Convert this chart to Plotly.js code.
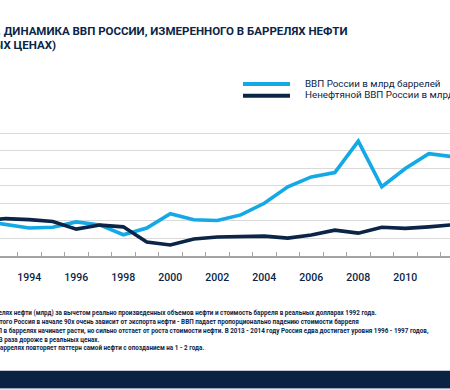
<!DOCTYPE html>
<html>
<head>
<meta charset="utf-8">
<script src="https://cdn.plot.ly/plotly-3.0.1.min.js"></script>
<style>
html, body { margin: 0; padding: 0; overflow: hidden; background: #ffffff; }
#chart { width: 450px; height: 390px; }
</style>
</head>
<body>
<div id="chart"></div>
<script>
// ---- data ----
const years = [1992, 1993, 1994, 1995, 1996, 1997, 1998, 1999, 2000, 2001, 2002,
               2003, 2004, 2005, 2006, 2007, 2008, 2009, 2010, 2011, 2012];
const gdpBarrels = [4.0, 3.54, 3.18, 3.28, 3.88, 3.54, 2.42, 3.18, 4.82, 4.12, 4.04,
                    4.68, 6.0, 7.88, 9.0, 9.5, 13.08, 7.88, 9.96, 11.64, 11.3];
const nonOilGdpBarrels = [4.0, 4.26, 4.14, 3.92, 3.06, 3.52, 3.32, 1.6, 1.26, 1.94, 2.16,
                          2.22, 2.26, 2.04, 2.38, 2.94, 2.6, 3.28, 3.14, 3.32, 3.56];
const seriesNames = ["ВВП России в млрд баррелей", "Ненефтяной ВВП России в млрд баррелей"];
const seriesColors = ["#13A8E6", "#0B2546"];
const tickYears = [1994, 1996, 1998, 2000, 2002, 2004, 2006, 2008, 2010, 2012];
const tickLabels = ["1994", "1996", "1998", "2000", "2002", "2004", "2006", "2008", "2010", "2012"];
const titleLines = ["2. ДИНАМИКА ВВП РОССИИ, ИЗМЕРЕННОГО В БАРРЕЛЯХ НЕФТИ", "(В РЕАЛЬНЫХ ЦЕНАХ)"];
const notes = [
  "* ВВП России в баррелях нефти (млрд) за вычетом реально произведенных объемов нефти и стоимость барреля в реальных долларах 1992 года.",
  "1. Из-за этого Россия в начале 90х очень зависит от экспорта нефти - ВВП падает пропорционально падению стоимости барреля",
  "2. С 2000 года ВВП в баррелях начинает расти, но сильно отстает от роста стоимости нефти. В 2013 - 2014 году Россия едва достигает уровня 1996 - 1997 годов,",
  "хотя нефть стала в 3 раза дороже в реальных ценах.",
  "3. Ненефтяной ВВП в баррелях повторяет паттерн самой нефти с опозданием на 1 - 2 года."
];

// ---- layout helpers (pixel -> paper) ----
const W = 450, H = 390;
const M = { l: 0, r: 0, t: 115, b: 133.6 };
const plotH = H - M.t - M.b;
const px = x => (x - M.l) / (W - M.l - M.r);
const py = y => (H - M.b - y) / plotH;
const navy = "#0B2546";
const FONT = "Roboto, 'Liberation Sans', sans-serif";

const traces = [
  { x: years, y: gdpBarrels, name: seriesNames[0], type: "scatter", mode: "lines",
    line: { color: seriesColors[0], width: 3.6 }, showlegend: false, hoverinfo: "x+y" },
  { x: years, y: nonOilGdpBarrels, name: seriesNames[1], type: "scatter", mode: "lines",
    line: { color: seriesColors[1], width: 3.6 }, showlegend: false, hoverinfo: "x+y" }
];

const annotations = [];
annotations.push({ xref: "paper", yref: "paper", x: px(350), y: py(31), xanchor: "right", yanchor: "middle",
  text: titleLines[0], showarrow: false, font: { family: FONT, size: 11.5, color: navy, weight: "bold" } });
annotations.push({ xref: "paper", yref: "paper", x: px(57.5), y: py(45), xanchor: "right", yanchor: "middle",
  text: titleLines[1], showarrow: false, font: { family: FONT, size: 11.5, color: navy, weight: "bold" } });

// legend (drawn manually)
const legendY = [84, 95.7];
const shapes = [];
seriesNames.forEach((n, i) => {
  shapes.push({ type: "line", xref: "paper", yref: "paper", x0: px(243), x1: px(290), y0: py(legendY[i]), y1: py(legendY[i]),
    line: { color: seriesColors[i], width: 4 } });
  annotations.push({ xref: "paper", yref: "paper", x: px(302.5), y: py(legendY[i] - 1), xanchor: "left", yanchor: "middle",
    text: n, showarrow: false, font: { family: FONT, size: 9.8, color: navy } });
});

// footnotes
const noteEnds = [379, 360.5, 430.5, 101.5, 205.5];
const noteY = [313.7, 322.7, 331.7, 340.2, 349];
notes.forEach((t, i) => {
  annotations.push({ xref: "paper", yref: "paper", x: px(noteEnds[i]), y: py(noteY[i]), xanchor: "right", yanchor: "middle",
    text: t, showarrow: false, font: { family: FONT, size: 6.3, color: navy, weight: "bold" } });
});

// bottom band
shapes.push({ type: "rect", xref: "paper", yref: "paper", x0: 0, x1: 1, y0: py(389), y1: py(371.5),
  fillcolor: "#0A2343", line: { width: 0 }, layer: "above" });
shapes.push({ type: "rect", xref: "paper", yref: "paper", x0: 0, x1: 1, y0: py(390), y1: py(389),
  fillcolor: "#8A9AB0", line: { width: 0 }, layer: "above" });

const layout = {
  width: W, height: H,
  margin: { l: M.l, r: M.r, t: M.t, b: M.b, pad: 0 },
  paper_bgcolor: "#ffffff", plot_bgcolor: "#ffffff",
  showlegend: false,
  xaxis: {
    range: [1992.753, 2011.902],
    tickmode: "array", tickvals: tickYears, ticktext: tickLabels,
    ticks: "", showgrid: false, zeroline: false,
    showline: true, linecolor: "#A3A3A3", linewidth: 1.5,
    ticklabelstandoff: 11,
    tickfont: { family: FONT, size: 10.5, color: navy, weight: 500 },
    minor: { tickmode: "linear", tick0: 1992.5, dtick: 1, ticks: "inside", ticklen: 4, tickwidth: 1, tickcolor: "#A3A3A3", showgrid: false }
  },
  yaxis: {
    range: [0, 16.05], dtick: 2, tick0: 0,
    showticklabels: false, ticks: "",
    showgrid: true, gridcolor: "#D9D9D9", gridwidth: 1,
    zeroline: false, showline: false
  },
  shapes: shapes,
  annotations: annotations
};

Plotly.newPlot("chart", traces, layout, { displayModeBar: false, staticPlot: true });
</script>
</body>
</html>
